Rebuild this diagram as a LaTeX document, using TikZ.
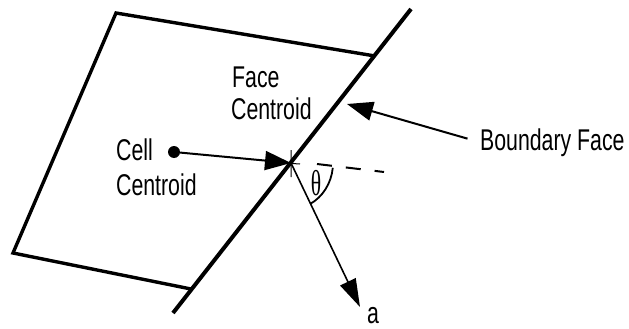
\documentclass[tikz,border=0pt]{standalone}
\usepackage{fontspec}
\setmainfont{Liberation Sans}
\newfontfamily\greekfont{Liberation Serif}
\usetikzlibrary{arrows.meta,positioning}

\begin{document}
\begin{tikzpicture}[
    x=1pt, y=-1pt,
    wall/.style={line width=4pt},
    side/.style={line width=3.4pt, line join=miter},
    arrow/.style={-{Triangle[length=26pt, width=19pt]}, line width=2pt},
    normal/.style={-{Triangle[length=28pt, width=17pt]}, line width=1.6pt},
    ext/.style={line width=2pt, dash pattern=on 15pt off 14pt},
    dot/.style={circle, fill, inner sep=0pt, minimum size=12pt},
    label/.style={font=\fontsize{30}{35}\selectfont, inner sep=0pt, anchor=base west, xscale=0.71, transform shape},
    greek/.style={font=\fontsize{36}{40}\greekfont, inner sep=0pt, xscale=0.6, transform shape}
]
\useasboundingbox (0,0) rectangle (629,329);

% Cell outline
\coordinate (tl) at (116,13);
\coordinate (bl) at (13,253);
\coordinate (tr) at (375,56);
\coordinate (br) at (191,289);
\coordinate (bt) at (411,9);
\coordinate (bb) at (173,313);
\draw[side] (tr) -- (tl) -- (bl) -- (br);
\draw[wall] (bt) -- (bb);

% Centroids
\node[dot] (cell) at (174,152) {};
\coordinate (fc) at (291,163);
\draw[arrow] (cell) -- (fc);
\draw[line width=1pt] (fc) ++(0,-13) -- ++(0,27) (fc) ++(-7,0) -- ++(16,1);

% Angle
\coordinate (e1) at (317,164);
\coordinate (e2) at (384,172);
\draw[ext] (e1) -- (e2);
\draw[line width=1.8pt] (fc) ++(6:42 and 46) arc[start angle=6, end angle=63, x radius=42, y radius=46];
\node[greek] (theta) at (316,183) {θ};

% Normal
\coordinate (atip) at (360,307);
\draw[normal] (fc) -- (atip);
\node[label] (a) at (367,323) {a};

% Labels
\node[label] (face) at (232,88) {Face};
\node[label] (facec) at (231,119) {Centroid};
\node[label] (celll) at (116,160) {Cell};
\node[label] (cellc) at (116,195) {Centroid};
\node[label] (bface) at (480,150) {Boundary Face};
\coordinate (hit) at (347,104);
\draw[arrow, shorten <=13pt] (bface.west) -- (hit);
\end{tikzpicture}
\end{document}
